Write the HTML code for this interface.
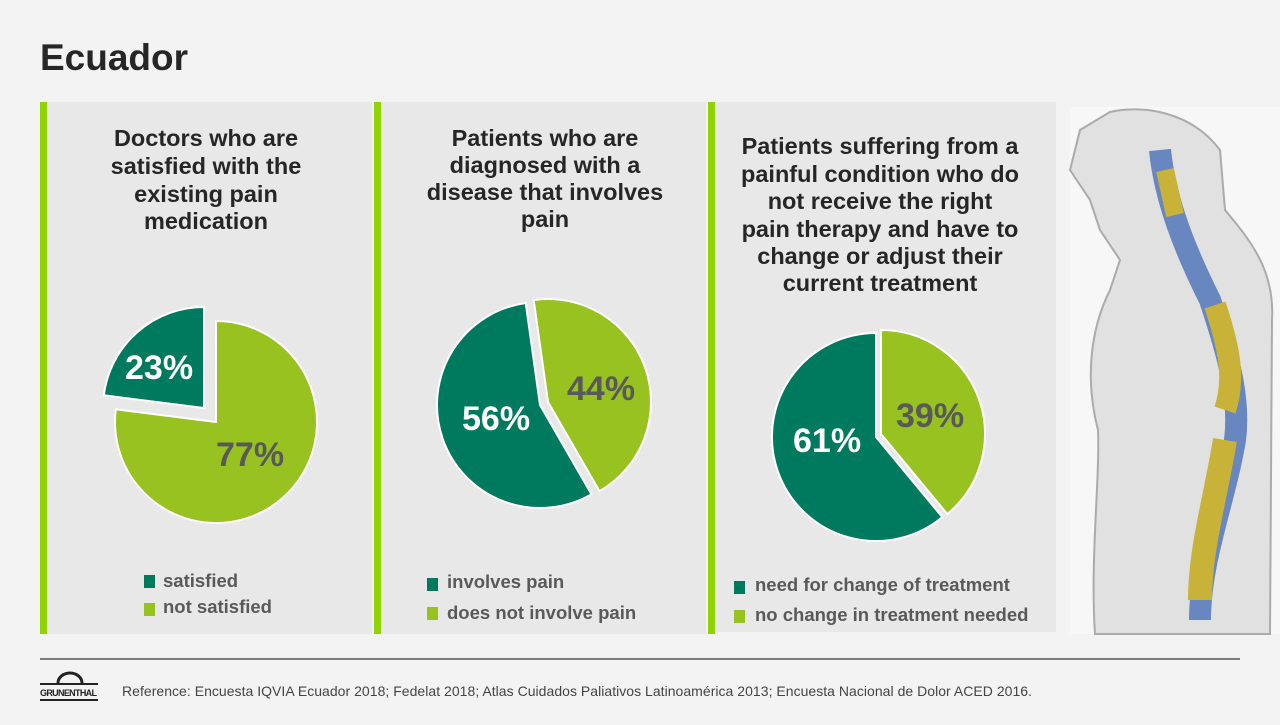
<!DOCTYPE html>
<html><head><meta charset="utf-8"><style>
body{margin:0;width:1280px;height:720px;background:#f3f3f3;font-family:"Liberation Sans",Arial,sans-serif;overflow:hidden}
</style></head><body>
<svg width="1280" height="720" xmlns="http://www.w3.org/2000/svg" font-family="Liberation Sans, Arial, sans-serif">
<rect width="1280" height="720" fill="#f3f3f3"/>
<text x="40" y="70" font-size="37" font-weight="bold" fill="#262626">Ecuador</text>
<rect x="40" y="102" width="332" height="532" fill="#e8e8e8"/>
<rect x="40" y="102" width="7" height="532" fill="#8fd400"/>
<rect x="374" y="102" width="332" height="532" fill="#e8e8e8"/>
<rect x="374" y="102" width="7" height="532" fill="#8fd400"/>
<rect x="708" y="102" width="348" height="530" fill="#e8e8e8"/>
<rect x="708" y="102" width="7" height="532" fill="#8fd400"/>
<g font-size="23.5" font-weight="bold" fill="#262626" text-anchor="middle">
<text x="206" y="146">Doctors who are</text>
<text x="206" y="174">satisfied with the</text>
<text x="206" y="202">existing pain</text>
<text x="206" y="229">medication</text>
<text x="545" y="146">Patients who are</text>
<text x="545" y="173">diagnosed with a</text>
<text x="545" y="200">disease that involves</text>
<text x="545" y="227">pain</text>
<text x="880" y="154">Patients suffering from a</text>
<text x="880" y="182">painful condition who do</text>
<text x="880" y="209">not receive the right</text>
<text x="880" y="237">pain therapy and have to</text>
<text x="880" y="264">change or adjust their</text>
<text x="880" y="291">current treatment</text>
</g>
<g stroke="#fff" stroke-width="2">
<path d="M216,422 L216,321 A101,101 0 1,1 115.8,409.3 Z" fill="#97c21f"/>
<path d="M204,408 L103.8,395.3 A101,101 0 0,1 204,307 Z" fill="#007a5e"/>
<path d="M540,405 L591.5,494.2 A103,103 0 1,1 525.7,303 Z" fill="#007a5e"/>
<path d="M548,402 L533.7,300 A103,103 0 0,1 599.5,491.2 Z" fill="#97c21f"/>
<path d="M876,437 L942.3,517.1 A104,104 0 1,1 876,333 Z" fill="#007a5e"/>
<path d="M881,434 L881,330 A104,104 0 0,1 947.3,514.1 Z" fill="#97c21f"/>
</g>
<g font-size="34" font-weight="bold">
<text x="125" y="379" fill="#fff">23%</text>
<text x="216" y="466" fill="#595959">77%</text>
<text x="462" y="430" fill="#fff">56%</text>
<text x="567" y="400" fill="#595959">44%</text>
<text x="793" y="452" fill="#fff">61%</text>
<text x="896" y="427" fill="#595959">39%</text>
</g>
<g font-size="18.5" font-weight="bold" fill="#595959">
<rect x="144" y="575" width="11" height="13" fill="#007a5e"/><text x="163" y="587">satisfied</text>
<rect x="144" y="603" width="11" height="13" fill="#97c21f"/><text x="163" y="613">not satisfied</text>
<rect x="427" y="578" width="11" height="13" fill="#007a5e"/><text x="447" y="588">involves pain</text>
<rect x="427" y="607" width="11" height="13" fill="#97c21f"/><text x="447" y="619">does not involve pain</text>
<rect x="734" y="581" width="11" height="13" fill="#007a5e"/><text x="755" y="591">need for change of treatment</text>
<rect x="734" y="610" width="11" height="13" fill="#97c21f"/><text x="755" y="621">no change in treatment needed</text>
</g>
<rect x="1070" y="107" width="210" height="527" fill="#f7f7f7"/>
<path d="M1110,112 C1140,105 1190,110 1220,150 L1225,210 C1250,240 1275,270 1272,320 L1270,634 L1095,634 C1090,560 1100,480 1098,430 C1085,380 1090,330 1110,290 L1120,260 L1100,230 L1090,200 L1070,170 L1080,130 Z" fill="#dcdcdc" stroke="#999" stroke-width="2" opacity="0.8"/>
<path d="M1160,150 C1165,200 1185,250 1210,300 C1230,360 1240,400 1235,440 C1225,500 1200,560 1200,620" fill="none" stroke="#4a6fb8" stroke-width="22" opacity="0.8"/>
<path d="M1165,170 L1175,215" stroke="#c9b238" stroke-width="18"/>
<path d="M1215,305 C1230,350 1235,380 1225,410" stroke="#c9b238" stroke-width="22" fill="none"/>
<path d="M1225,440 C1215,500 1200,550 1200,600" stroke="#c9b238" stroke-width="24" fill="none"/>
<line x1="40" y1="659" x2="1240" y2="659" stroke="#555" stroke-width="1.5"/>
<path d="M58,683 a12,10 0 0,1 24,0" fill="none" stroke="#222" stroke-width="3"/>
<line x1="40" y1="684" x2="98" y2="684" stroke="#222" stroke-width="2"/>
<text x="40" y="696" font-size="9" font-weight="bold" fill="#222" textLength="57">GRUNENTHAL</text>
<line x1="40" y1="700" x2="98" y2="700" stroke="#222" stroke-width="2"/>
<text x="122" y="696" font-size="14" fill="#444" textLength="910">Reference: Encuesta IQVIA Ecuador 2018; Fedelat 2018; Atlas Cuidados Paliativos Latinoamérica 2013; Encuesta Nacional de Dolor ACED 2016.</text>
</svg>
</body></html>
